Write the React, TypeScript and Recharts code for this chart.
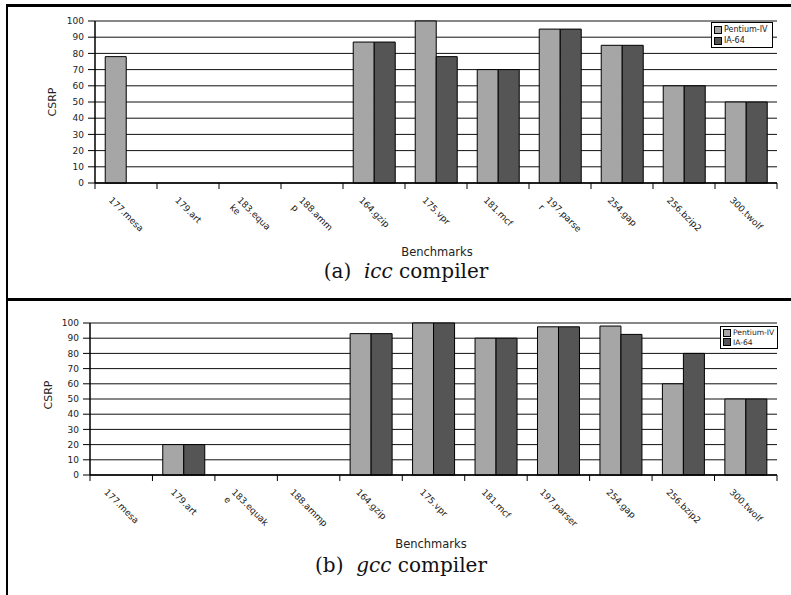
import { Bar, BarChart, CartesianGrid, Legend, XAxis, YAxis } from 'recharts';

const benchmarksIcc = ['177.mesa', '179.art', '183.equa\nke', '188.amm\np', '164.gzip', '175.vpr', '181.mcf', '197.parse\nr', '254.gap', '256.bzip2', '300.twolf'];
const benchmarksGcc = ['177.mesa', '179.art', '183.equak\ne', '188.ammp', '164.gzip', '175.vpr', '181.mcf', '197.parser', '254.gap', '256.bzip2', '300.twolf'];

const iccPentium = [78, 0, 0, 0, 87, 100, 70, 95, 85, 60, 50];
const iccIa64 = [0, 0, 0, 0, 87, 78, 70, 95, 85, 60, 50];
const gccPentium = [0, 20, 0, 0, 93, 100, 90, 97.5, 98, 60, 50];
const gccIa64 = [0, 20, 0, 0, 93, 100, 90, 97.5, 92.5, 80, 50];

const yTicks = [0, 10, 20, 30, 40, 50, 60, 70, 80, 90, 100];

const FONT = '"DejaVu Sans", sans-serif';
const LIGHT = '#a6a6a6';
const DARK = '#555555';

let ctx: CanvasRenderingContext2D | null = null;
const measure = (s: string) => {
  if (!ctx) {
    ctx = document.createElement('canvas').getContext('2d');
    if (ctx) ctx.font = '9px "DejaVu Sans"';
  }
  return ctx ? ctx.measureText(s).width : s.length * 5.4;
};

const BenchTick = (props: any) => {
  const { x, payload, index, axisY, band, count } = props;
  const lines = String(payload.value).split('\n');
  const lh = 10.5;
  const w = Math.max(...lines.map(measure));
  const h = lines.length * lh;
  const x0 = x - (w - h) / (2 * Math.SQRT2);
  const y0 = axisY + 12;
  return (
    <g>
      <line x1={x - band / 2} x2={x - band / 2} y1={axisY} y2={axisY + 6} stroke="#000" />
      {index === count - 1 && (
        <line x1={x + band / 2} x2={x + band / 2} y1={axisY} y2={axisY + 6} stroke="#000" />
      )}
      <g transform={`translate(${x0},${y0}) rotate(45)`}>
        {lines.map((l, i) => (
          <text key={i} x={0} y={i * lh + 8} fontSize={9} fontFamily={FONT} fill="#222">
            {l}
          </text>
        ))}
      </g>
    </g>
  );
};

const AxisTitle = ({ tx, ty, turn, text }: any) => (
  <text
    x={tx}
    y={ty}
    transform={turn ? `rotate(-90,${tx},${ty})` : undefined}
    textAnchor="middle"
    dominantBaseline={turn ? 'central' : 'auto'}
    fontSize={turn ? 11 : 11.5}
    fontFamily={FONT}
    fill="#222"
  >
    {text}
  </text>
);

const LegendBox = ({ w, h, fs }: { w: number; h: number; fs: number }) => (
  <div
    style={{
      width: w,
      height: h,
      boxSizing: 'border-box',
      border: '1px solid #000',
      background: '#fff',
      fontFamily: FONT,
      fontSize: fs,
      color: '#222',
      padding: '1px 1px 1px 2px',
      lineHeight: `${(h - 4) / 2}px`,
      whiteSpace: 'nowrap',
      overflow: 'hidden',
    }}
  >
    {[
      { label: 'Pentium-IV', color: LIGHT },
      { label: 'IA-64', color: DARK },
    ].map((it) => (
      <div key={it.label} style={{ display: 'flex', alignItems: 'center', gap: 2, height: (h - 4) / 2 }}>
        <span
          style={{ flex: 'none', width: 8, height: 8, boxSizing: 'border-box', border: '1px solid #000', background: it.color }}
        />
        <span>{it.label}</span>
      </div>
    ))}
  </div>
);

type PanelProps = {
  names: string[];
  pentium: number[];
  ia64: number[];
  height: number;
  plotLeft: number;
  plotTop: number;
  plotBottom: number;
  csrp: [number, number];
  bench: [number, number];
  legend: { left: number; top: number; w: number; h: number; fs: number };
};

const Panel = ({ names, pentium, ia64, height, plotLeft, plotTop, plotBottom, csrp, bench, legend }: PanelProps) => {
  const width = 791;
  const plotRight = 777;
  const data = names.map((name, i) => ({ name, pentium: pentium[i], ia64: ia64[i] }));
  const band = (plotRight - plotLeft) / names.length;
  const xAxisHeight = 30;
  return (
    <BarChart
      width={width}
      height={height}
      data={data}
      margin={{ top: plotTop, right: width - plotRight, bottom: height - plotBottom - xAxisHeight, left: plotLeft - 40 }}
      barCategoryGap="16.5%"
      barGap={0}
    >
      <CartesianGrid vertical={false} stroke="#111" />
      <XAxis
        dataKey="name"
        height={xAxisHeight}
        interval={0}
        tickLine={false}
        axisLine={{ stroke: '#000', strokeWidth: 1.5 }}
        tick={<BenchTick axisY={plotBottom} band={band} count={names.length} />}
        label={<AxisTitle tx={bench[0]} ty={bench[1]} text="Benchmarks" />}
      />
      <YAxis
        width={40}
        domain={[0, 100]}
        ticks={yTicks}
        interval={0}
        tickSize={7}
        tickMargin={4}
        tickLine={{ stroke: '#000' }}
        axisLine={{ stroke: '#000', strokeWidth: 1.5 }}
        tick={{ fontSize: 9, fontFamily: FONT, fill: '#222' }}
        label={<AxisTitle tx={csrp[0]} ty={csrp[1]} turn text="CSRP" />}
      />
      <Legend
        layout="horizontal"
        verticalAlign="middle"
        align="center"
        wrapperStyle={{ position: 'absolute', left: legend.left, top: legend.top, width: legend.w, height: legend.h }}
        content={() => <LegendBox w={legend.w} h={legend.h} fs={legend.fs} />}
      />
      <Bar dataKey="pentium" name="Pentium-IV" fill={LIGHT} stroke="#000" strokeWidth={1} isAnimationActive={false} />
      <Bar dataKey="ia64" name="IA-64" fill={DARK} stroke="#000" strokeWidth={1} isAnimationActive={false} />
    </BarChart>
  );
};

const Caption = ({ top, center, tag, name }: { top: number; center: number; tag: string; name: string }) => (
  <div
    style={{
      position: 'absolute',
      top,
      left: center,
      transform: 'translateX(-50%)',
      whiteSpace: 'nowrap',
      fontFamily: '"DejaVu Serif", serif',
      fontSize: 20,
      lineHeight: '20px',
      color: '#111',
    }}
  >
    ({tag})&nbsp; <i>{name}</i> compiler
  </div>
);

export default function App() {
  return (
    <div style={{ position: 'absolute', left: 0, top: 0, width: 791, height: 595, background: '#fff', overflow: 'hidden' }}>
      <div style={{ position: 'absolute', left: 0, top: 0 }}>
        <Panel
          names={benchmarksIcc}
          pentium={iccPentium}
          ia64={iccIa64}
          height={300}
          plotLeft={95}
          plotTop={21}
          plotBottom={183}
          csrp={[52, 102]}
          bench={[437, 256]}
          legend={{ left: 711, top: 22, w: 62, h: 26, fs: 8 }}
        />
      </div>
      <div style={{ position: 'absolute', left: 0, top: 300 }}>
        <Panel
          names={benchmarksGcc}
          pentium={gccPentium}
          ia64={gccIa64}
          height={295}
          plotLeft={90}
          plotTop={23}
          plotBottom={175}
          csrp={[48, 95]}
          bench={[431, 248]}
          legend={{ left: 720, top: 26, w: 58, h: 23, fs: 7.6 }}
        />
      </div>
      <Caption top={261} center={406} tag="a" name="icc" />
      <Caption top={555} center={401} tag="b" name="gcc" />
      <div style={{ position: 'absolute', left: 6, top: 4, width: 800, height: 600, borderTop: '3px solid #000', borderLeft: '2px solid #000' }} />
      <div style={{ position: 'absolute', left: 6, top: 298, width: 800, height: 0, borderTop: '3px solid #000' }} />
    </div>
  );
}
